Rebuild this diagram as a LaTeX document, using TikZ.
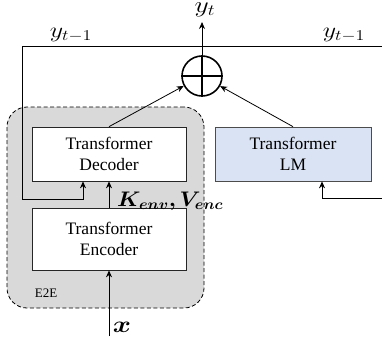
\documentclass[tikz,border=0pt]{standalone}
\usepackage{graphicx}
\usepackage{fontspec}
\setmainfont{Liberation Serif}
\usepackage{bm}
\usetikzlibrary{arrows.meta}
\definecolor{egray}{HTML}{D9D9D9}
\definecolor{lmblue}{HTML}{DAE3F3}
\begin{document}
\begin{tikzpicture}[x=1pt,y=-1pt,
  box/.style={draw=black!85, line width=0.7pt, fill=white, minimum width=154pt, minimum height=54pt, align=center, inner sep=0pt, font=\fontsize{17.5}{21}\selectfont},
  conn/.style={line width=0.8pt, -{Stealth[length=7pt,width=6pt]}},
  mlabel/.style={inner sep=0pt, font=\fontsize{17.28}{20}\selectfont}]
\useasboundingbox (0,0) rectangle (382,345);
\node[draw=black, dash pattern=on 4pt off 2.5pt, line width=0.8pt, rounded corners=20pt, fill=egray, minimum width=197pt, minimum height=201pt, inner sep=0pt] (e2e) at (105.5,207.5) {};
\node[inner sep=0pt, font=\fontsize{13}{15}\selectfont] (e2el) at (46,293) {E2E};
\node[box] (dec) at (109,154) {Transformer\\Decoder};
\node[box, minimum height=62pt] (enc) at (109,239) {Transformer\\Encoder};
\node[box, fill=lmblue, draw=black!70, minimum width=156pt] (lm) at (293,154) {Transformer\\LM};
\node[circle, draw, line width=1.6pt, minimum size=40pt, inner sep=0pt] (op) at (202,76) {};
\draw[line width=1.6pt] (op.north) -- (op.south) (op.west) -- (op.east);
\node[mlabel, anchor=north] (yt) at (205,2.5) {\scalebox{1.6}[1.3]{$y_t$}};
\node[mlabel] (yl) at (71,35) {\scalebox{1.5}[1.25]{$y_{t-1}$}};
\node[mlabel] (yr) at (344,35) {\scalebox{1.5}[1.25]{$y_{t-1}$}};
\node[mlabel, anchor=west] (kv) at (117,201) {\scalebox{1.3}[1.22]{$\bm{K_{env}, V_{enc}}$}};
\node[mlabel] (xl) at (122,327) {\scalebox{1.6}[1.35]{$\bm{x}$}};
\coordinate (tl) at (22,46);
\coordinate (tr) at (382,46);
\coordinate (fb) at (83,199);
\coordinate (lr) at (382,198);
\coordinate (xin) at (109,336);
\coordinate (ytop) at (202,22);
\draw[conn] (op.north) -- (ytop);
\draw[conn] (tr) -- (tl) |- (fb) -- (fb |- dec.south);
\draw[conn] (enc.north) -- (dec.south);
\draw[conn] (xin) -- (enc.south);
\draw[conn] (dec.north) -- (op);
\draw[conn] (lm.north) -- (op);
\draw[conn] (lr) -| ([xshift=29pt]lm.south);
\end{tikzpicture}
\end{document}
